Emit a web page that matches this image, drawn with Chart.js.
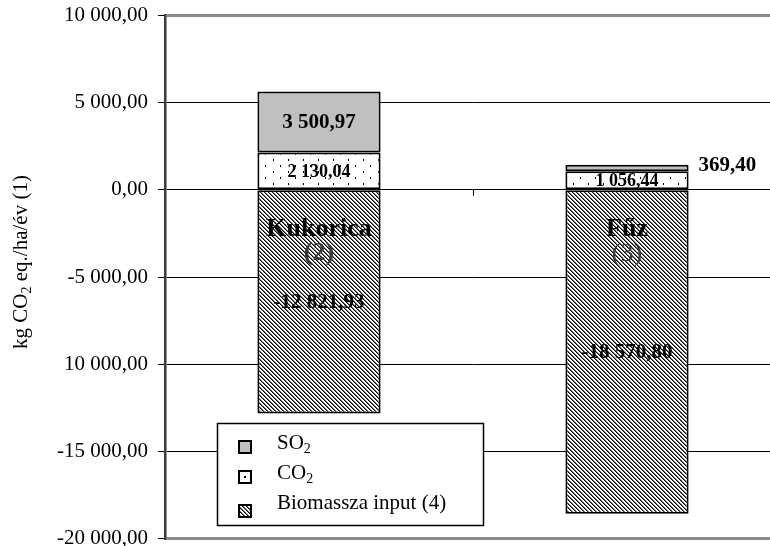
<!DOCTYPE html>
<html>
<head>
<meta charset="utf-8">
<script src="https://cdn.jsdelivr.net/npm/chart.js@4.4.1/dist/chart.umd.min.js"></script>
<style>
html, body { margin: 0; padding: 0; background: #fff; overflow: hidden; }
#wrap { width: 770px; height: 546px; overflow: hidden; position: relative; }
canvas { display: block; }
</style>
</head>
<body>
<div id="wrap"><canvas id="chart" width="782" height="554"></canvas></div>
<script>
var categories = ['Kukorica', 'Fűz'];
var categoryNumbers = ['(2)', '(3)'];
var biomassValues = [-12821.93, -18570.80];
var co2Values = [2130.04, 1056.44];
var so2Values = [3500.97, 369.40];
var seriesNames = ['Biomassza input (4)', 'CO2', 'SO2'];
var yTickValues = [10000, 5000, 0, -5000, -10000, -15000, -20000];
var yTickLabels = ['10 000,00', '5 000,00', '0,00', '-5 000,00', '10 000,00', '-15 000,00', '-20 000,00'];
var yTitle = 'kg CO2 eq./ha/év (1)';

var FONT = "'Liberation Serif', 'Times New Roman', serif";

function fmt(v) {
    var s = Math.abs(v).toFixed(2).split('.');
    var intPart = s[0].replace(/\B(?=(\d{3})+(?!\d))/g, ' ');
    return (v < 0 ? '-' : '') + intPart + ',' + s[1];
}

// hatch "\" stripes
function makeHatch() {
    var c = document.createElement('canvas');
    c.width = 4; c.height = 4;
    var cx = c.getContext('2d');
    var img = cx.createImageData(4, 4);
    var shades = [0, 110, 255, 255];
    for (var y = 0; y < 4; y++) {
        for (var x = 0; x < 4; x++) {
            var d = ((x - y) % 4 + 4) % 4;
            var v = shades[d];
            var i = (y * 4 + x) * 4;
            img.data[i] = v; img.data[i + 1] = v; img.data[i + 2] = v; img.data[i + 3] = 255;
        }
    }
    cx.putImageData(img, 0, 0);
    return cx.createPattern(c, 'repeat');
}

function makeDots() {
    var c = document.createElement('canvas');
    c.width = 15; c.height = 12;
    var cx = c.getContext('2d');
    cx.fillStyle = '#fff';
    cx.fillRect(0, 0, 15, 12);
    cx.fillStyle = '#000';
    cx.fillRect(3, 3, 1, 2);
    cx.fillRect(10, 9, 1, 2);
    return cx.createPattern(c, 'repeat');
}

// draws text with "O2" -> O + subscript 2
function drawSubText(ctx, text, x, y, size, align) {
    var parts = [];
    for (var i = 0; i < text.length; i++) {
        var sub = text[i] === '2' && i > 0 && text[i - 1] === 'O';
        if (parts.length && parts[parts.length - 1].sub === sub) parts[parts.length - 1].t += text[i];
        else parts.push({t: text[i], sub: sub});
    }
    var subSize = Math.round(size * 0.66);
    var total = 0;
    parts.forEach(function (p) {
        ctx.font = (p.sub ? subSize : size) + 'px ' + FONT;
        p.w = ctx.measureText(p.t).width;
        total += p.w;
    });
    var cx = align === 'center' ? x - total / 2 : x;
    ctx.textAlign = 'left';
    ctx.textBaseline = 'middle';
    parts.forEach(function (p) {
        ctx.font = (p.sub ? subSize : size) + 'px ' + FONT;
        ctx.fillText(p.t, cx, p.sub ? y + size * 0.3 : y);
        cx += p.w;
    });
}

var hatch = makeHatch();
var dots = makeDots();

var labelsPlugin = {
    id: 'labelsPlugin',
    afterDatasetsDraw: function (chart) {
        var ctx = chart.ctx;
        var yScale = chart.scales.y;
        var xScale = chart.scales.x;
        var y0 = yScale.getPixelForValue(0);
        ctx.save();

        // small category tick on the zero line
        var mid = (xScale.getPixelForValue(0) + xScale.getPixelForValue(1)) / 2;
        ctx.strokeStyle = '#000';
        ctx.lineWidth = 1;
        ctx.beginPath();
        ctx.moveTo(Math.round(mid) + 0.5, y0);
        ctx.lineTo(Math.round(mid) + 0.5, y0 + 6);
        ctx.stroke();

        var sizes = [21, 18, 21];
        chart.data.datasets.forEach(function (ds, di) {
            var meta = chart.getDatasetMeta(di);
            meta.data.forEach(function (el, i) {
                var p = el.getProps(['x', 'y', 'base', 'width'], true);
                var top = Math.min(p.y, p.base), bottom = Math.max(p.y, p.base);
                var txt = fmt(ds.data[i]);
                ctx.fillStyle = '#000';
                ctx.textBaseline = 'middle';
                ctx.font = 'bold ' + sizes[di] + 'px ' + FONT;
                if (bottom - top < 12) {
                    ctx.textAlign = 'left';
                    ctx.fillText(txt, p.x + p.width / 2 + 10, (top + bottom) / 2 - 3);
                } else {
                    ctx.textAlign = 'center';
                    ctx.fillText(txt, p.x, (top + bottom) / 2 + 1);
                }
            });
        });

        // category names inside bars
        categories.forEach(function (name, i) {
            var x = xScale.getPixelForValue(i);
            ctx.textAlign = 'center';
            ctx.textBaseline = 'middle';
            ctx.fillStyle = '#000';
            ctx.font = 'bold 26px ' + FONT;
            ctx.fillText(name, x, y0 + 40);
            ctx.fillStyle = '#3a3a3a';
            ctx.font = (i === 0 ? 'bold ' : '') + '26px ' + FONT;
            ctx.fillText(categoryNumbers[i], x, y0 + 64);
        });
        ctx.restore();
    },
    afterDraw: function (chart) {
        var ctx = chart.ctx;
        ctx.save();

        // y axis title
        ctx.fillStyle = '#000';
        ctx.translate(21, 262);
        ctx.rotate(-Math.PI / 2);
        drawSubText(ctx, yTitle, 0, 0, 21, 'center');
        ctx.setTransform(1, 0, 0, 1, 0, 0);

        // legend box
        var bx = 217, by = 423, bw = 266, bh = 102;
        ctx.fillStyle = '#fff';
        ctx.fillRect(bx, by, bw, bh);
        ctx.strokeStyle = '#000';
        ctx.lineWidth = 1.5;
        ctx.strokeRect(bx + 0.5, by + 0.5, bw, bh);

        var order = [2, 1, 0];
        var rowY = [443, 473, 503];
        var markY = [447, 477, 511];
        order.forEach(function (di, r) {
            var ds = chart.data.datasets[di];
            var mx = 239, my = markY[r] - 6;
            ctx.fillStyle = ds.backgroundColor;
            ctx.fillRect(mx, my, 12, 12);
            ctx.strokeStyle = '#000';
            ctx.lineWidth = 2;
            ctx.strokeRect(mx, my, 12, 12);
            if (di === 1) {
                ctx.fillStyle = '#fff';
                ctx.fillRect(mx + 1, my + 1, 10, 10);
                ctx.fillStyle = '#000';
                ctx.fillRect(mx + 5, my + 5, 2, 2);
            }
            ctx.fillStyle = '#000';
            drawSubText(ctx, seriesNames[di], 277, rowY[r], 21, 'left');
        });
        ctx.restore();
    }
};

var config = {
    type: 'bar',
    data: {
        labels: categories,
        datasets: [
            {
                label: seriesNames[0],
                data: biomassValues,
                backgroundColor: hatch,
                borderColor: '#000',
                borderWidth: 2,
                borderSkipped: false,
            },
            {
                label: seriesNames[1],
                data: co2Values,
                backgroundColor: dots,
                borderColor: '#000',
                borderWidth: 2,
                borderSkipped: false,
            },
            {
                label: seriesNames[2],
                data: so2Values,
                backgroundColor: '#c0c0c0',
                borderColor: '#000',
                borderWidth: 2,
                borderSkipped: false,
            },
        ]
    },
    options: {
        responsive: false,
        animation: false,
        devicePixelRatio: 1,
        layout: {
            padding: {left: 0, top: 15, right: 1, bottom: 11}
        },
        plugins: {
            legend: {display: false},
            tooltip: {enabled: false},
        },
        datasets: {
            bar: {categoryPercentage: 0.4, barPercentage: 1}
        },
        scales: {
            x: {
                stacked: true,
                display: false,
            },
            y: {
                stacked: true,
                min: -20000,
                max: 10000,
                afterFit: function (scale) {
                    scale.width = 165;
                },
                ticks: {
                    stepSize: 5000,
                    padding: 10,
                    color: '#000',
                    font: {family: FONT, size: 21, lineHeight: 0.5},
                    callback: function (value) {
                        var k = yTickValues.indexOf(value);
                        return k >= 0 ? yTickLabels[k] : '';
                    }
                },
                grid: {
                    tickLength: 7,
                    tickColor: '#000',
                    tickWidth: 1,
                    color: function (c) {
                        var v = c.tick ? c.tick.value : 0;
                        return (v === 10000 || v === -20000) ? '#8a8a8a' : '#000';
                    },
                    lineWidth: function (c) {
                        var v = c.tick ? c.tick.value : 0;
                        return (v === 10000 || v === -20000) ? 3 : 1;
                    }
                },
                border: {color: '#3c3c3c', width: 2.5}
            }
        }
    },
    plugins: [labelsPlugin]
};

var ctx = document.getElementById('chart').getContext('2d');
window.resketchChart = new Chart(ctx, config);
</script>
</body>
</html>
